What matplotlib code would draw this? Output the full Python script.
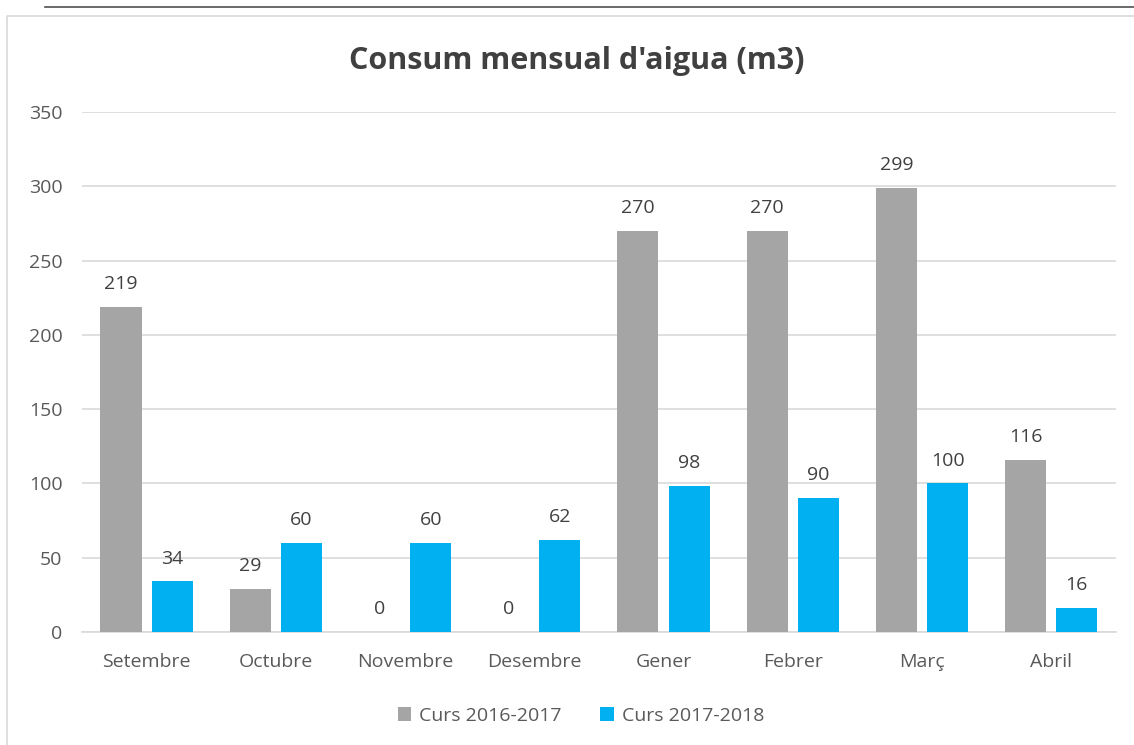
import matplotlib.pyplot as plt
import numpy as np
from matplotlib.lines import Line2D

months = ["Setembre", "Octubre", "Novembre", "Desembre", "Gener", "Febrer", "Març", "Abril"]
curs_2016 = [219, 29, 0, 0, 270, 270, 299, 116]
curs_2017 = [34, 60, 60, 62, 98, 90, 100, 16]
series_names = ["Curs 2016-2017", "Curs 2017-2018"]
y_ticks = [0, 50, 100, 150, 200, 250, 300, 350]

plt.rcParams['font.family'] = ['Open Sans', 'DejaVu Sans']

text_col = "#595959"
gray = "#A5A5A5"
blue = "#00B0F0"

fig = plt.figure(figsize=(11.34, 7.45), dpi=100)
ax = fig.add_axes([0.0723, 0.1517, 0.9117, 0.698])

x = np.arange(len(months))
w = 0.318
off = 0.198
b1 = ax.bar(x - off, curs_2016, w, color=gray, label=series_names[0], zorder=3)
b2 = ax.bar(x + off, curs_2017, w, color=blue, label=series_names[1], zorder=3)

for bars in (b1, b2):
    for rect in bars:
        h = rect.get_height()
        ax.annotate(str(int(h)), (rect.get_x() + rect.get_width() / 2, h),
                    xytext=(0, 10), textcoords="offset points",
                    ha="center", va="bottom", fontsize=14, color="#404040")

ax.set_xlim(-0.5, len(months) - 0.5)
ax.set_ylim(0, 350)
ax.set_yticks(y_ticks)
ax.set_xticks(x)
ax.set_xticklabels(months)
ax.tick_params(axis="both", length=0, labelsize=14, labelcolor=text_col)
ax.tick_params(axis="y", pad=14)
ax.tick_params(axis="x", pad=15)
ax.grid(axis="y", color="#D9D9D9", linewidth=1.2, zorder=0)
for s in ["top", "right", "left"]:
    ax.spines[s].set_visible(False)
ax.spines["bottom"].set_color("#D9D9D9")
ax.spines["bottom"].set_linewidth(1.2)

fig.text(0.509, 0.918, "Consum mensual d'aigua (m3)", ha="center", va="center",
         fontsize=22, fontweight="bold", color="#404040")

ax.legend(loc="center", bbox_to_anchor=(0.4826, -0.161), ncol=2, frameon=False,
          fontsize=14, labelcolor=text_col, handlelength=0.7, handleheight=0.7,
          handletextpad=0.4, columnspacing=2.0)

# frame decorations
fig.add_artist(Line2D([45 / 1134, 1.0], [1 - 7 / 745, 1 - 7 / 745],
                      color="#505050", linewidth=1.2))
fig.add_artist(Line2D([7 / 1134, 7 / 1134, 1.0], [0.0, 1 - 16 / 745, 1 - 16 / 745],
                      color="#D9D9D9", linewidth=1.2))

fig.savefig("out.png", dpi=100)
